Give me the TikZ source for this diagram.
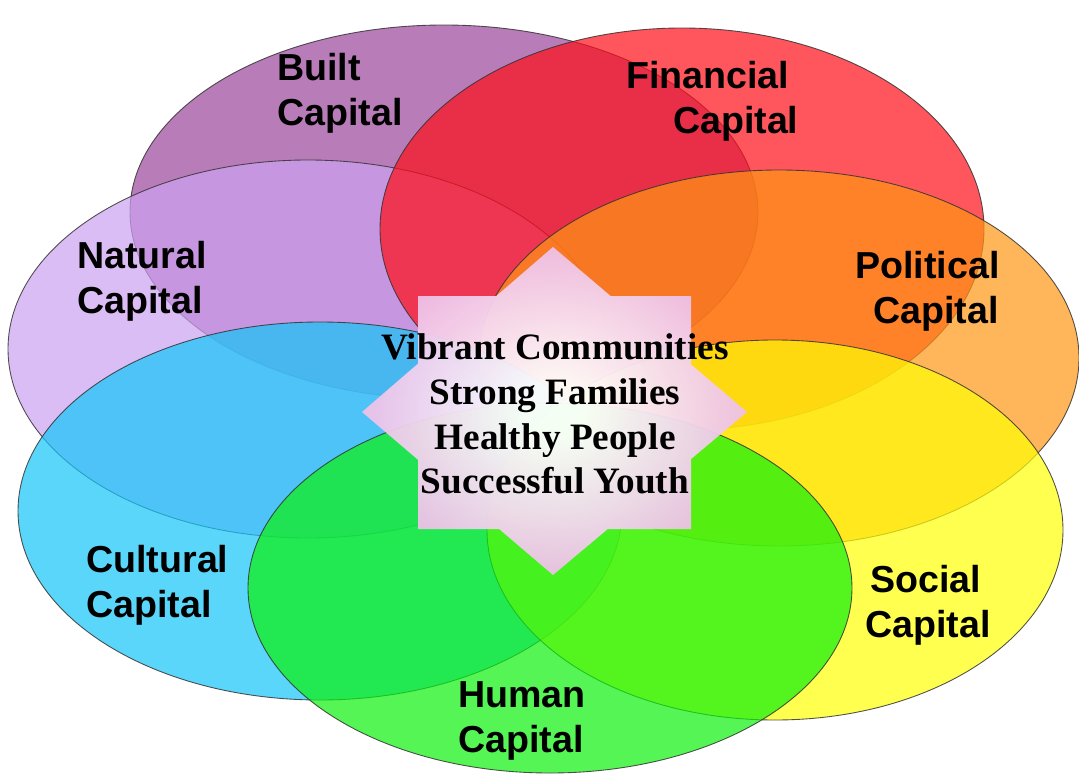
\documentclass[tikz,border=0pt]{standalone}
\usepackage{fontspec}
\setmainfont{Liberation Serif}
\newfontfamily\labelfont{Liberation Sans}
\definecolor{cBuilt}{RGB}{155,69,155}
\definecolor{cNatural}{RGB}{205,162,241}
\definecolor{cFinancial}{RGB}{255,14,24}
\definecolor{cPolitical}{RGB}{255,150,19}
\definecolor{cCultural}{RGB}{19,198,248}
\definecolor{cSocial}{RGB}{255,255,5}
\definecolor{cHuman}{RGB}{12,241,12}
\definecolor{starpink}{RGB}{234,176,226}
\pgfdeclareradialshading{starshade}{\pgfpoint{0bp}{0bp}}{color(0bp)=(white); color(4bp)=(white); color(30bp)=(starpink); color(75bp)=(starpink)}
\begin{document}
\begin{tikzpicture}[x=0.02cm,y=-0.02cm,
  ring/.style={draw=black!80, line width=0.5pt, fill opacity=0.7, draw opacity=0.85},
  caplabel/.style={font=\labelfont\bfseries\fontsize{21.4}{25.5}\selectfont, align=left, anchor=base west, inner sep=0pt, text=black},
  centertext/.style={font=\bfseries\fontsize{21.2}{25.5}\selectfont, align=center, inner sep=0pt, text=black}]
\fill[white] (0,0) rectangle (1079,774);
\useasboundingbox (0,0) rectangle (1079,774);
% ellipses
\path[ring, fill=cBuilt] (444,212) ellipse [x radius=314, y radius=187];
\path[ring, fill=cNatural] (308,349) ellipse [x radius=300, y radius=189];
\path[ring, fill=cFinancial] (682,229) ellipse [x radius=302, y radius=201];
\path[ring, fill=cPolitical] (779,358) ellipse [x radius=300, y radius=188];
\path[ring, fill=cCultural] (320,511) ellipse [x radius=302, y radius=189];
\path[ring, fill=cSocial] (775,530) ellipse [x radius=288, y radius=190];
\path[ring, fill=cHuman] (550,588) ellipse [x radius=302, y radius=185];
% star
\shade[shading=starshade, fill opacity=0.95]
  (418,296) -- (691,296) -- (691,529) -- (418,529) -- cycle
  (553,247) -- (747,412) -- (553,575) -- (362,412) -- cycle;
% labels (anchor = baseline of the last line)
\node[caplabel] (built) at (277,125) {Built\\Capital};
\node[caplabel] (financial) at (626,133) {Financial\\\hspace*{26.6pt}Capital};
\node[caplabel] (natural) at (77,313) {Natural\\Capital};
\node[caplabel] (political) at (855,323) {Political\\\hspace*{10.2pt}Capital};
\node[caplabel] (cultural) at (86,617) {Cultural\\Capital};
\node[caplabel] (social) at (865,637) {\hspace*{2.8pt}Social\\Capital};
\node[caplabel] (human) at (458,752) {Human\\Capital};
\node[centertext] (goal) at (555,414) {Vibrant Communities\\Strong Families\\Healthy People\\Successful Youth};
\end{tikzpicture}
\end{document}
